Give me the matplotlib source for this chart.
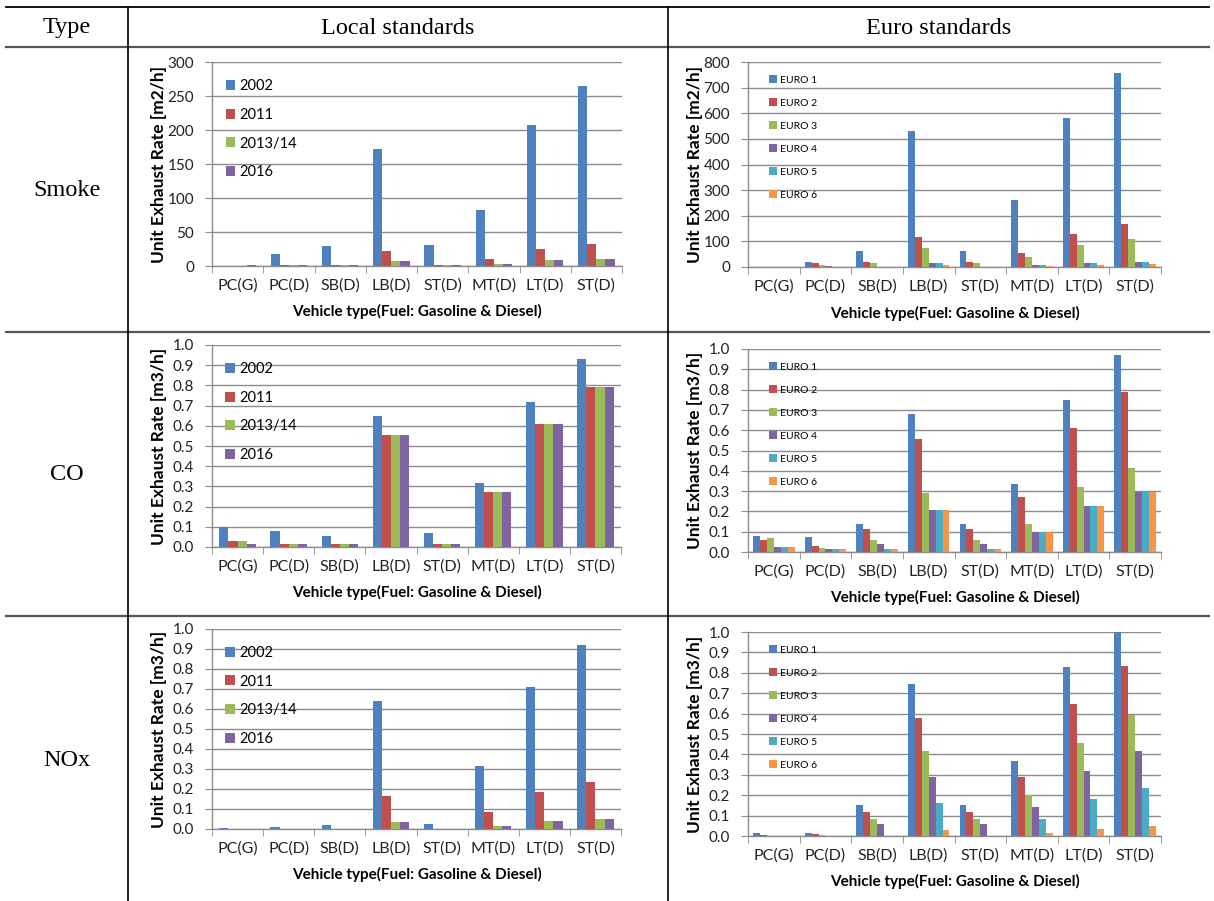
import numpy as np
import matplotlib
matplotlib.use("Agg")
import matplotlib.pyplot as plt
from matplotlib.ticker import FormatStrFormatter, MultipleLocator

plt.rcParams['font.family'] = ['Lato', 'DejaVu Sans']

# data
vehicles = ['PC(G)', 'PC(D)', 'SB(D)', 'LB(D)', 'ST(D)', 'MT(D)', 'LT(D)', 'ST(D)']
local_years = ['2002', '2011', '2013/14', '2016']
euro_names = ['EURO 1', 'EURO 2', 'EURO 3', 'EURO 4', 'EURO 5', 'EURO 6']

smoke_local = [
    [0, 18, 29, 172, 31, 82, 208, 265],
    [0, 1, 1, 22, 1, 11, 25, 33],
    [0, 1, 1, 7, 1, 3, 9, 11],
    [1, 1, 1, 7, 1, 3, 9, 11],
]
smoke_euro = [
    [0, 21, 62, 530, 62, 260, 583, 758],
    [0, 15, 20, 116, 20, 55, 127, 168],
    [0, 7, 14, 76, 14, 38, 86, 110],
    [0, 4, 0, 14, 0, 7, 14, 20],
    [0, 0, 0, 14, 0, 7, 14, 20],
    [0, 0, 0, 7, 0, 4, 7, 10],
]
co_local = [
    [0.10, 0.08, 0.052, 0.65, 0.07, 0.315, 0.72, 0.93],
    [0.03, 0.015, 0.015, 0.555, 0.015, 0.27, 0.61, 0.79],
    [0.03, 0.015, 0.015, 0.555, 0.015, 0.27, 0.61, 0.79],
    [0.015, 0.015, 0.015, 0.555, 0.015, 0.27, 0.61, 0.79],
]
co_euro = [
    [0.078, 0.074, 0.14, 0.68, 0.14, 0.335, 0.75, 0.97],
    [0.057, 0.028, 0.113, 0.555, 0.113, 0.27, 0.61, 0.79],
    [0.067, 0.018, 0.057, 0.29, 0.057, 0.14, 0.32, 0.415],
    [0.027, 0.013, 0.04, 0.205, 0.04, 0.098, 0.225, 0.297],
    [0.027, 0.013, 0.013, 0.205, 0.013, 0.098, 0.225, 0.297],
    [0.027, 0.013, 0.013, 0.205, 0.013, 0.098, 0.225, 0.297],
]
nox_local = [
    [0.007, 0.01, 0.02, 0.64, 0.025, 0.315, 0.71, 0.92],
    [0, 0, 0, 0.165, 0, 0.083, 0.183, 0.235],
    [0, 0, 0, 0.033, 0, 0.015, 0.038, 0.052],
    [0, 0, 0, 0.033, 0, 0.015, 0.038, 0.052],
]
nox_euro = [
    [0.013, 0.013, 0.15, 0.745, 0.15, 0.367, 0.827, 1.0],
    [0.007, 0.01, 0.117, 0.58, 0.117, 0.287, 0.645, 0.832],
    [0, 0.006, 0.082, 0.415, 0.082, 0.2, 0.457, 0.592],
    [0, 0, 0.057, 0.29, 0.057, 0.142, 0.32, 0.415],
    [0, 0, 0, 0.163, 0, 0.082, 0.183, 0.235],
    [0, 0, 0, 0.03, 0, 0.013, 0.035, 0.048],
]

colors = ['#4F81BD', '#C0504D', '#9BBB59', '#8064A2', '#4BACC6', '#F79646']
grid_col = '#8c8c8c'

W, H = 1214, 901
fig = plt.figure(figsize=(W / 100, H / 100), dpi=100)

# table frame drawn in pixel coordinates
bg = fig.add_axes([0, 0, 1, 1], zorder=0)
bg.set_xlim(0, W)
bg.set_ylim(H, 0)
bg.axis('off')
bg.plot([6, 1209], [7, 7], color='black', lw=1.3)
for yy in [46.5, 332, 616]:
    bg.plot([6, 1209], [yy, yy], color='#555555', lw=1.6)
for xx in [128, 668]:
    bg.plot([xx, xx], [7, H], color='black', lw=1.2)

serif = ['Liberation Serif', 'DejaVu Serif']
bg.text(67, 28, 'Type', family=serif, fontsize=17.5, ha='center', va='center')
bg.text(398, 28, 'Local standards', family=serif, fontsize=17.5, ha='center', va='center')
bg.text(939, 28, 'Euro standards', family=serif, fontsize=17.5, ha='center', va='center')
for lab, yy in zip(['Smoke', 'CO', 'NOx'], [190, 474, 760]):
    bg.text(67, yy, lab, family=serif, fontsize=17.5, ha='center', va='center')


def make_axes(left, top, right, bottom):
    return fig.add_axes([left / W, 1 - bottom / H, (right - left) / W, (bottom - top) / H], zorder=2)


def bar_chart(ax, series, labels, ymax, ystep, unit, euro):
    n = len(series)
    x = np.arange(len(vehicles))
    width = 0.134 if euro else 0.178
    for i, vals in enumerate(series):
        ax.bar(x + (i - (n - 1) / 2) * width, vals, width, color=colors[i],
               label=labels[i], zorder=3, linewidth=0)
    ax.set_xlim(-0.5, len(vehicles) - 0.5)
    ax.set_ylim(0, ymax)
    ax.yaxis.set_major_locator(MultipleLocator(ystep))
    if ystep < 1:
        ax.yaxis.set_major_formatter(FormatStrFormatter('%.1f'))
    ax.grid(axis='y', color=grid_col, lw=1.0, zorder=0)
    ax.set_axisbelow(True)
    for s in ['top', 'right']:
        ax.spines[s].set_visible(False)
    for s in ['left', 'bottom']:
        ax.spines[s].set_color(grid_col)
        ax.spines[s].set_linewidth(1.0)
    ax.set_xticks(x)
    ax.set_xticklabels(vehicles, fontsize=11.5, color='#222222')
    ax.set_xticks(np.arange(-0.5, len(vehicles)), minor=True)
    ax.tick_params(axis='x', which='major', length=0, pad=9)
    ax.tick_params(axis='x', which='minor', length=5, color=grid_col)
    ax.tick_params(axis='y', length=5, color=grid_col, pad=8, labelsize=11, labelcolor='#222222')
    ax.set_ylabel('Unit Exhaust Rate [' + unit + ']', fontsize=12.5, fontweight='bold')
    ax.yaxis.set_label_coords(-0.109, 0.5)
    ax.set_xlabel('Vehicle type(Fuel: Gasoline & Diesel)', fontsize=11, fontweight='bold')
    ax.xaxis.label.set_verticalalignment('center')
    ax.xaxis.set_label_coords(0.5, -0.225)
    if euro:
        ax.legend(loc='upper left', bbox_to_anchor=(0.052, 0.935), frameon=False,
                  fontsize=7.5, handlelength=0.75, handleheight=0.75,
                  handletextpad=0.3, labelspacing=1.3, borderaxespad=0, borderpad=0)
    else:
        ax.legend(loc='upper left', bbox_to_anchor=(0.033, 0.915), frameon=False,
                  fontsize=10.5, handlelength=0.68, handleheight=0.68,
                  handletextpad=0.25, labelspacing=1.0, borderaxespad=0, borderpad=0)


ax1 = make_axes(212, 62, 622, 266)
bar_chart(ax1, smoke_local, local_years, 300, 50, 'm2/h', False)
ax2 = make_axes(748, 62, 1161, 267)
bar_chart(ax2, smoke_euro, euro_names, 800, 100, 'm2/h', True)

ax3 = make_axes(212, 345, 621, 547)
bar_chart(ax3, co_local, local_years, 1.0, 0.1, 'm3/h', False)
ax4 = make_axes(748, 349, 1161, 552)
bar_chart(ax4, co_euro, euro_names, 1.0, 0.1, 'm3/h', True)

ax5 = make_axes(212, 629, 621, 829)
bar_chart(ax5, nox_local, local_years, 1.0, 0.1, 'm3/h', False)
ax6 = make_axes(748, 632, 1161, 836)
bar_chart(ax6, nox_euro, euro_names, 1.0, 0.1, 'm3/h', True)

fig.savefig('out.png', dpi=100)
